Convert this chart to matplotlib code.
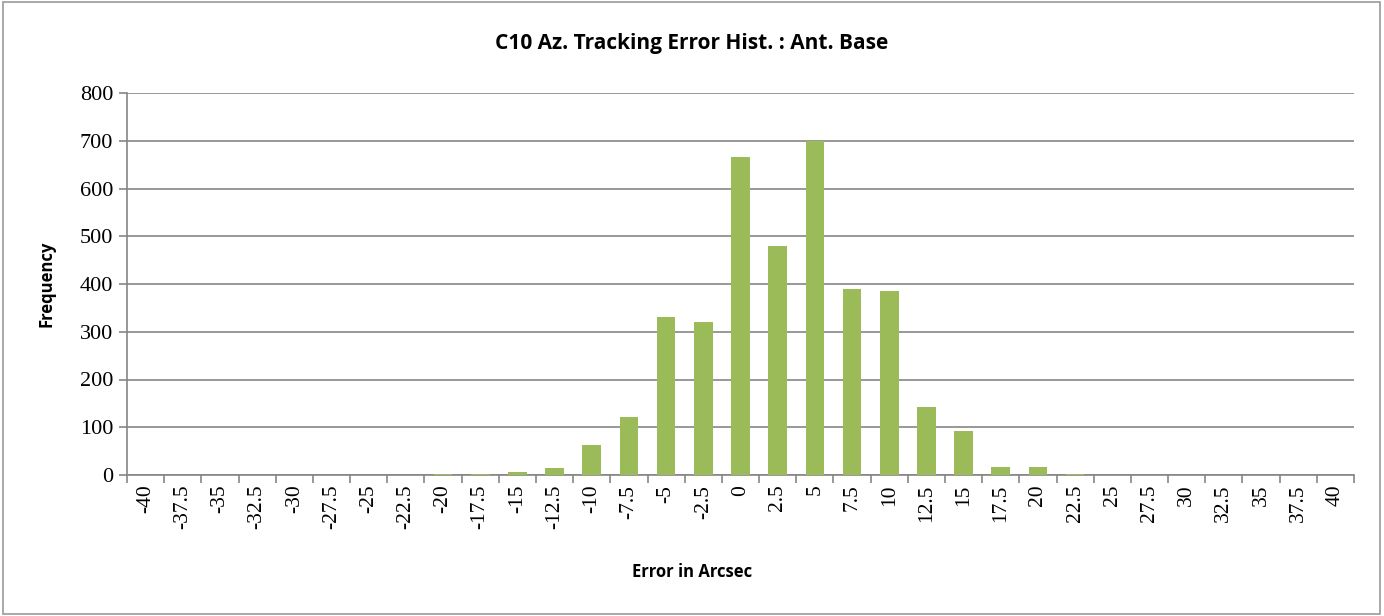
import matplotlib.pyplot as plt
from matplotlib.patches import Rectangle
import numpy as np

# bins (arcsec) and counts
bins = [-40, -37.5, -35, -32.5, -30, -27.5, -25, -22.5, -20, -17.5, -15, -12.5,
        -10, -7.5, -5, -2.5, 0, 2.5, 5, 7.5, 10, 12.5, 15, 17.5, 20, 22.5,
        25, 27.5, 30, 32.5, 35, 37.5, 40]
counts = [0, 0, 0, 0, 0, 0, 0, 0, 3, 3, 7, 15,
          63, 122, 330, 320, 665, 480, 700, 390, 385, 142, 93, 17, 17, 3,
          0, 0, 0, 0, 0, 0, 0]
tick_labels = [f"{b:g}" for b in bins]

title = "C10 Az. Tracking Error Hist. : Ant. Base"
xlabel = "Error in Arcsec"
ylabel = "Frequency"

BAR = '#9BBB59'
GRID = '#868686'
sans = ['Open Sans', 'DejaVu Sans']
serif = ['Liberation Serif', 'DejaVu Serif']

fig = plt.figure(figsize=(13.84, 6.16), dpi=100)
fig.patches.append(Rectangle((0.002, 0.004), 0.995, 0.992, transform=fig.transFigure,
                             fill=False, edgecolor='#9a9a9a', lw=1.2))

ax = fig.add_axes([127 / 1384, 1 - 475 / 616, (1354 - 127) / 1384, (475 - 93) / 616])
x = np.arange(len(bins))
ax.bar(x, counts, width=0.5, color=BAR, zorder=3)

ax.set_xlim(-0.5, len(bins) - 0.5)
ax.set_ylim(0, 800)
ax.set_yticks(range(0, 801, 100))
ax.set_yticklabels([str(v) for v in range(0, 801, 100)], family=serif, fontsize=16)
ax.yaxis.grid(True, color=GRID, lw=1.2, zorder=0)

ax.set_xticks(x)
ax.set_xticklabels(tick_labels, rotation=90, family=serif, fontsize=15.5)
ax.tick_params(axis='x', length=0, pad=7)
ax.set_xticks(np.arange(-0.5, len(bins), 1), minor=True)
ax.tick_params(axis='x', which='minor', length=6, color=GRID, width=1.2)
ax.tick_params(axis='y', length=6, color=GRID, width=1.2, pad=4)

for s in ['top', 'right']:
    ax.spines[s].set_visible(False)
for s in ['left', 'bottom']:
    ax.spines[s].set_color(GRID)
    ax.spines[s].set_linewidth(1.2)

fig.text(0.5, 1 - 44 / 616, title, ha='center', va='center', family=sans,
         fontsize=15, fontweight='bold')
fig.text(0.5, 1 - 572 / 616, xlabel, ha='center', va='center', family=sans,
         fontsize=12, fontweight='bold')
fig.text(47 / 1384, 1 - 284 / 616, ylabel, ha='center', va='center', family=sans,
         fontsize=12, fontweight='bold', rotation=90)

fig.savefig('out.png', dpi=100)
